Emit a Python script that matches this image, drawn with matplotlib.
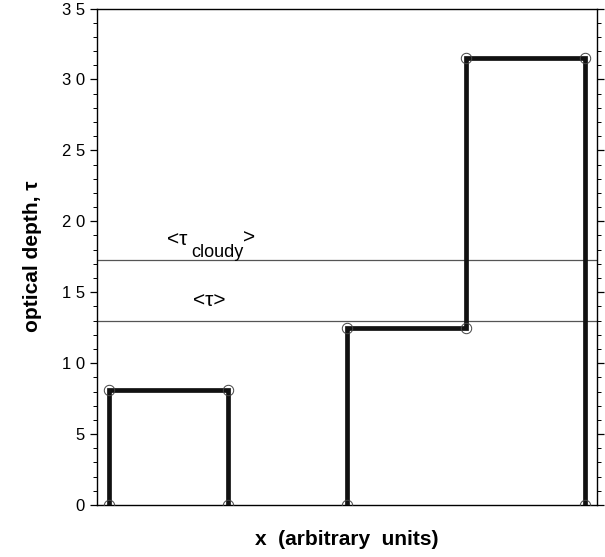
import matplotlib
matplotlib.use("Agg")
import matplotlib.pyplot as plt
from matplotlib.ticker import MultipleLocator, FuncFormatter

plt.rcParams['font.family'] = ['Liberation Sans', 'DejaVu Sans']

# Data
x_vertices = [1, 1, 2, 2, None, 3, 3, 4, 4, 5, 5]
tau_vertices = [0, 8.1, 8.1, 0, None, 0, 12.5, 12.5, 31.5, 31.5, 0]
tau_mean = 13.0
tau_cloudy_mean = 17.3

fig = plt.figure(figsize=(6.05, 5.57), dpi=100)
ax = fig.add_axes([0.160, 0.0934, 0.827, 0.8913])

xs = [v if v is not None else float('nan') for v in x_vertices]
ys = [v if v is not None else float('nan') for v in tau_vertices]
ax.plot(xs, ys, color='#111111', lw=3.4, solid_joinstyle='miter', zorder=3)
ax.plot(xs, ys, linestyle='none', marker='o', ms=7.5, mfc='none', mec='#444444', mew=0.7, zorder=4)

ax.axhline(tau_mean, color='#555555', lw=0.9, zorder=2)
ax.axhline(tau_cloudy_mean, color='#555555', lw=0.9, zorder=2)

ax.text(1.84, 14.45, '<τ>', fontsize=15, ha='center', va='center')
ax.text(1.575, 18.75, '<τ', fontsize=15, ha='center', va='center')
ax.text(1.915, 17.8, 'cloudy', fontsize=13, ha='center', va='center')
ax.text(2.18, 18.8, '>', fontsize=15, ha='center', va='center')

ax.set_xlim(0.9, 5.1)
ax.set_ylim(0, 35)
ax.yaxis.set_major_locator(MultipleLocator(5))
ax.yaxis.set_minor_locator(MultipleLocator(1))
ax.yaxis.set_major_formatter(FuncFormatter(lambda v, p: ' '.join(str(int(v)))))
ax.set_xticks([])
ax.tick_params(axis='y', which='both', left=True, right=True, direction='out', labelsize=12)
ax.tick_params(axis='y', which='major', length=5, width=0.9)
ax.tick_params(axis='y', which='minor', length=3, width=0.7)
for s in ax.spines.values():
    s.set_linewidth(1.0)

ax.set_xlabel('x  (arbitrary  units)', fontsize=15, fontweight='bold', labelpad=18)
ax.set_ylabel('optical depth, τ', fontsize=15, fontweight='bold', labelpad=14)

fig.savefig('out.png', dpi=100)
